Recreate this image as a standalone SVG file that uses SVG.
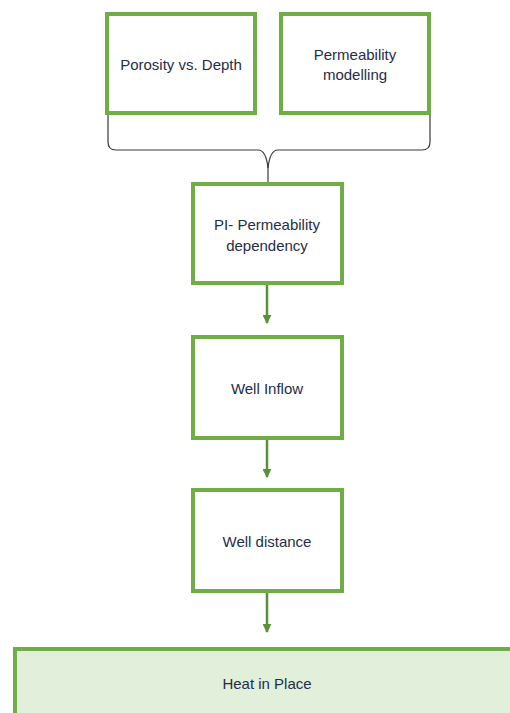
<svg xmlns="http://www.w3.org/2000/svg" width="510" height="713" viewBox="0 0 510 713">
<style>
.box{fill:#ffffff;stroke:#70ad47;stroke-width:4}
.last{fill:#e2efda;stroke:#70ad47;stroke-width:4}
.t{font-family:"Liberation Sans",Arial,sans-serif;font-size:15px;fill:#1f2d4a;text-anchor:middle}
.c{stroke:#5a9138;stroke-width:2.5;fill:none}
.brace{stroke:#3a3a3a;stroke-width:1.2;fill:none}
</style>
<defs>
<marker id="ah" viewBox="0 0 10 10" refX="9" refY="5" markerWidth="3.6" markerHeight="3.6" orient="auto" markerUnits="strokeWidth">
<path d="M0,0 L10,5 L0,10 Z" fill="#5a9138"/>
</marker>
</defs>
<rect width="510" height="713" fill="#ffffff"/>
<g id="n1"><rect class="box" x="107" y="14" width="148" height="99"/><text class="t" x="181" y="70">Porosity vs. Depth</text></g>
<g id="n2"><rect class="box" x="281" y="14" width="148" height="99"/><text class="t" x="355" y="60">Permeability</text><text class="t" x="355" y="80">modelling</text></g>
<g id="n3"><rect class="box" x="193" y="184" width="149" height="99"/><text class="t" x="267" y="230">PI- Permeability</text><text class="t" x="267" y="251">dependency</text></g>
<g id="n4"><rect class="box" x="193" y="337" width="149" height="101"/><text class="t" x="267" y="394">Well Inflow</text></g>
<g id="n5"><rect class="box" x="193" y="490" width="149" height="101"/><text class="t" x="267" y="547">Well distance</text></g>
<g id="n6"><rect class="last" x="15" y="649" width="510" height="80"/><text class="t" x="267" y="689">Heat in Place</text></g>
<g id="connectors">
<path class="brace" d="M108,115 L108,142 Q108,150 116,150 L258,150 Q266,150 268,168 Q270,150 278,150 L422,150 Q430,150 430,142 L430,115"/>
<path class="brace" d="M268,166 L268,182"/>
<line class="c" x1="267" y1="285" x2="267" y2="323" marker-end="url(#ah)"/>
<line class="c" x1="267" y1="440" x2="267" y2="477" marker-end="url(#ah)"/>
<line class="c" x1="267" y1="593" x2="267" y2="632" marker-end="url(#ah)"/>
</g>
</svg>
